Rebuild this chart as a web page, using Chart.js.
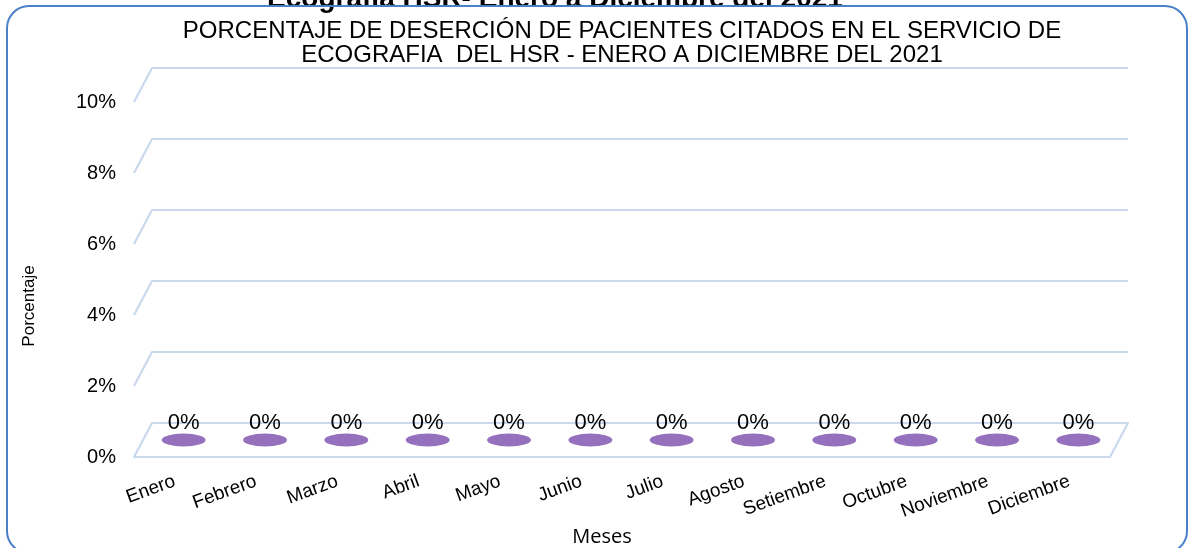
<!DOCTYPE html>
<html><head><meta charset="utf-8">
<script src="https://cdn.jsdelivr.net/npm/chart.js@4.4.1/dist/chart.umd.min.js"></script>
<style>html,body{margin:0;padding:0;background:#fff;overflow:hidden}</style>
</head><body>
<canvas id="c" width="1188" height="548"></canvas>
<script>
// ---- data ----
const months = ['Enero','Febrero','Marzo','Abril','Mayo','Junio','Julio','Agosto','Setiembre','Octubre','Noviembre','Diciembre'];
const desercion = [0,0,0,0,0,0,0,0,0,0,0,0];
const yTicks = [0,2,4,6,8,10];
const topTitle = 'Ecografía HSR- Enero a Diciembre del 2021';
const mainTitle = ['PORCENTAJE DE DESERCIÓN DE PACIENTES CITADOS EN EL SERVICIO DE','ECOGRAFIA  DEL HSR - ENERO A DICIEMBRE DEL 2021'];
const xTitle = 'Meses';
const yTitle = 'Porcentaje';

// ---- style ----
const DX = 18, DY = 34;            // 3D depth offset
const GRID = '#cad9ee';
const BAR = '#9470bd';
const FONT = "'Liberation Sans', Arial, sans-serif";

function roundRect(ctx, x, y, w, h, r) {
  ctx.beginPath();
  ctx.moveTo(x + r, y);
  ctx.lineTo(x + w - r, y); ctx.arcTo(x + w, y, x + w, y + r, r);
  ctx.lineTo(x + w, y + h - r); ctx.arcTo(x + w, y + h, x + w - r, y + h, r);
  ctx.lineTo(x + r, y + h); ctx.arcTo(x, y + h, x, y + h - r, r);
  ctx.lineTo(x, y + r); ctx.arcTo(x, y, x + r, y, r);
  ctx.closePath();
}

const depthPlugin = {
  id: 'depth3d',
  beforeDraw(chart) {
    const {ctx, width, height} = chart;
    ctx.save(); ctx.fillStyle = '#fff'; ctx.fillRect(0, 0, width, height); ctx.restore();
  },
  beforeDatasetsDraw(chart) {
    const {ctx, chartArea: a, scales: {y}} = chart;
    ctx.save();
    ctx.strokeStyle = GRID; ctx.lineWidth = 2.2; ctx.lineJoin = 'round';
    y.ticks.forEach(t => {
      const py = y.getPixelForValue(t.value);
      ctx.beginPath();
      if (t.value === y.min) {
        ctx.moveTo(a.right, py); ctx.lineTo(a.left, py);
        ctx.lineTo(a.left + DX, py - DY); ctx.lineTo(a.right + DX, py - DY);
        ctx.closePath();
      } else {
        ctx.moveTo(a.left, py); ctx.lineTo(a.left + DX, py - DY); ctx.lineTo(a.right + DX, py - DY);
      }
      ctx.stroke();
    });
    ctx.restore();
  },
  afterDatasetsDraw(chart) {
    const {ctx} = chart;
    const meta = chart.getDatasetMeta(0);
    const ds = chart.data.datasets[0];
    ctx.save();
    meta.data.forEach((el, i) => {
      const cx = el.x + DX / 2, top = el.y - DY / 2, base = el.base - DY / 2;
      const rx = el.width / 2, ry = 6.5;
      ctx.fillStyle = BAR;
      if (base - top > 0.5) {
        ctx.beginPath(); ctx.ellipse(cx, base, rx, ry, 0, 0, Math.PI * 2); ctx.fill();
        ctx.fillRect(cx - rx, top, rx * 2, base - top);
      }
      ctx.beginPath(); ctx.ellipse(cx, top, rx, ry, 0, 0, Math.PI * 2); ctx.fill();
      ctx.fillStyle = '#000';
      ctx.font = '22px ' + FONT;
      ctx.textAlign = 'center'; ctx.textBaseline = 'middle';
      ctx.fillText(ds.data[i] + '%', cx, top - 17);
    });
    ctx.restore();
  },
  afterDraw(chart) {
    const {ctx} = chart;
    ctx.save();
    ctx.fillStyle = '#000';
    ctx.textAlign = 'center'; ctx.textBaseline = 'middle';
    ctx.font = "20px 'Open Sans', sans-serif";
    ctx.fillText(xTitle, 602, 537);
    ctx.translate(29, 306); ctx.rotate(-Math.PI / 2);
    ctx.font = '17px ' + FONT;
    ctx.fillText(yTitle, 0, 0);
    ctx.restore();
    ctx.save();
    ctx.strokeStyle = '#4a80c8'; ctx.lineWidth = 2;
    roundRect(ctx, 7, 6, 1180, 547, 22);
    ctx.stroke();
    ctx.restore();
  }
};

new Chart(document.getElementById('c'), {
  type: 'bar',
  data: {
    labels: months,
    datasets: [{
      label: 'Porcentaje de deserción',
      data: desercion,
      backgroundColor: 'rgba(0,0,0,0)',
      borderWidth: 0,
      categoryPercentage: 1,
      barPercentage: 0.54
    }]
  },
  options: {
    responsive: false,
    animation: false,
    events: [],
    layout: {padding: {left: 0, right: 78, top: 0, bottom: 0}},
    plugins: {
      legend: {display: false},
      tooltip: {enabled: false},
      title: {
        display: true, text: topTitle, color: '#000',
        font: {family: FONT, size: 28, weight: 'bold', lineHeight: 1.2},
        padding: {top: -18, bottom: 2}
      },
      subtitle: {
        display: true, text: mainTitle, color: '#000', fullSize: false,
        font: {family: FONT, size: 24, weight: 'normal', lineHeight: 1.0},
        padding: {top: 1.4, bottom: 35}
      }
    },
    scales: {
      x: {
        grid: {display: false, drawTicks: false},
        border: {display: false},
        ticks: {color: '#000', font: {family: FONT, size: 19}, minRotation: 20, maxRotation: 20, padding: 13, autoSkip: false},
        afterFit(s) { s.height = 91; }
      },
      y: {
        min: 0, max: 10,
        grid: {display: false, drawTicks: false},
        border: {display: false},
        afterBuildTicks(s) { s.ticks = yTicks.map(v => ({value: v})); },
        ticks: {color: '#000', font: {family: FONT, size: 20}, padding: 18, callback: v => v + '%'},
        afterFit(s) { s.width = 134; }
      }
    }
  },
  plugins: [depthPlugin]
});
</script>
</body></html>
